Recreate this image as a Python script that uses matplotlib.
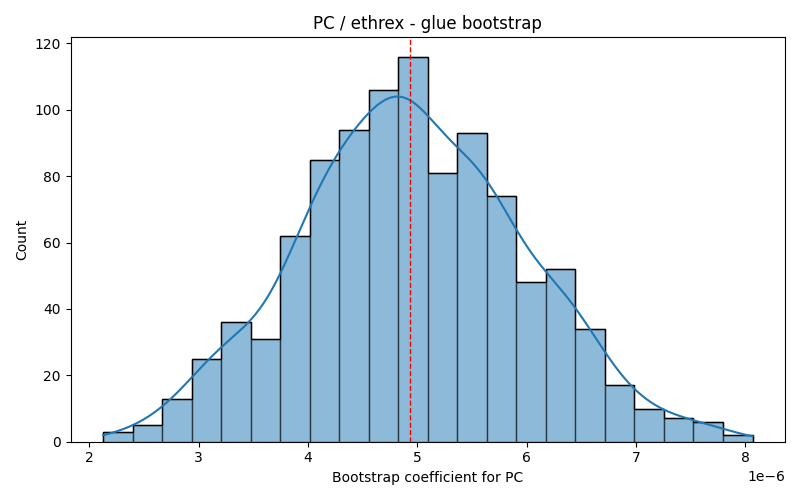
import numpy as np
import matplotlib
matplotlib.use("Agg")
from matplotlib import pyplot as plt

# 直方图数据
bin_start = 2.126e-6
bin_width = 0.2701e-6
counts = [3, 5, 13, 25, 36, 31, 62, 85, 94, 106, 116, 81, 93, 74, 48, 52, 34, 17, 10, 7, 6, 2]
mean_line = 4.931e-6

edges = bin_start + bin_width * np.arange(len(counts) + 1)
centers = (edges[:-1] + edges[1:]) / 2

plt.figure(figsize=(8, 5), dpi=100)
ax = plt.gca()
ax.hist(centers, bins=edges, weights=counts, color="#1f77b4", alpha=0.5,
        edgecolor="black", linewidth=1)
# 边框不透明
ax.hist(centers, bins=edges, weights=counts, histtype="step", color="black", linewidth=1)

# kde 曲线，按计数缩放
w = np.array(counts, dtype=float)
n = w.sum()
mu = np.sum(w * centers) / n
sd = np.sqrt(np.sum(w * (centers - mu) ** 2) / n)
bw = 1.06 * sd * n ** (-1 / 5)
grid = np.linspace(edges[0], edges[-1], 300)
dens = np.sum(w[:, None] * np.exp(-0.5 * ((grid[None, :] - centers[:, None]) / bw) ** 2), axis=0)
dens = dens / (n * bw * np.sqrt(2 * np.pi))
ax.plot(grid, dens * n * bin_width, color="#1f77b4", linewidth=1.5)

ax.axvline(mean_line, color="red", linestyle="--", linewidth=1)

ax.set_title("PC / ethrex - glue bootstrap")
ax.set_xlabel("Bootstrap coefficient for PC")
ax.set_ylabel("Count")

plt.tight_layout()
plt.savefig("out.png")
